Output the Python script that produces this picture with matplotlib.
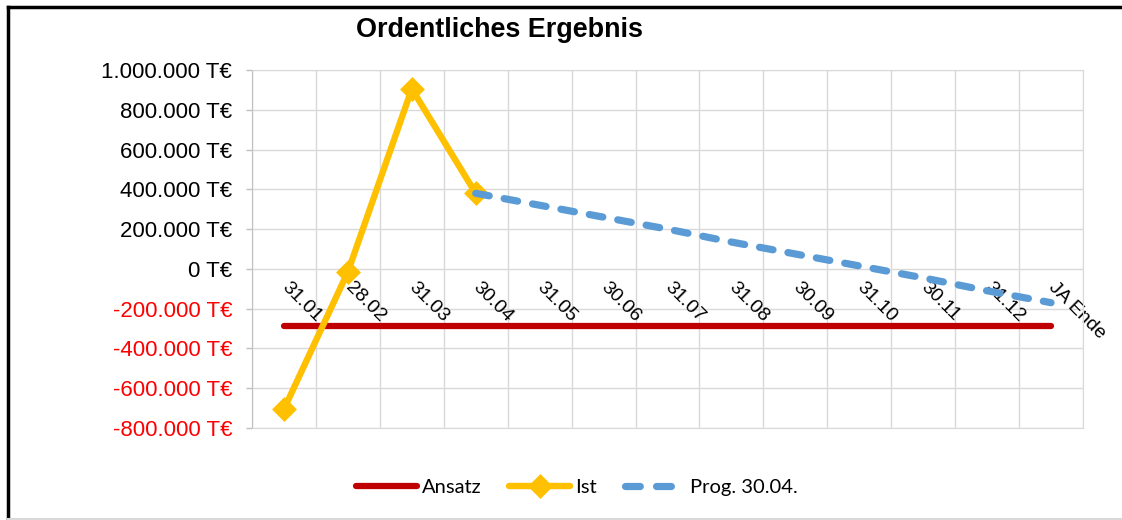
import matplotlib.pyplot as plt
from matplotlib.lines import Line2D

# category labels along the x axis
months = ['31.01', '28.02', '31.03', '30.04', '31.05', '30.06', '31.07',
          '31.08', '30.09', '31.10', '30.11', '31.12', 'JA Ende']

# values in T€
ansatz = [-285000] * 13
ist = [-705000, -15000, 905000, 380000]
prog = [380000, 320000, 260000, 200000, 135000, 75000, 15000, -45000,
        -110000, -170000]
prog_start = 3  # Prognose begins at 30.04

yticks = [-800000, -600000, -400000, -200000, 0, 200000, 400000, 600000,
          800000, 1000000]

plt.rcParams['font.family'] = ['Liberation Sans', 'DejaVu Sans']

fig = plt.figure(figsize=(11.22, 5.2), dpi=100)
ax = fig.add_axes([252 / 1122, 1 - 428 / 520, 831 / 1122, 358 / 520])

x_all = list(range(len(months)))
ax.plot(x_all, ansatz, color='#C00000', lw=4.5, solid_capstyle='round',
        zorder=3)
ax.plot(x_all[:len(ist)], ist, color='#FFC000', lw=4.6, marker='D',
        ms=10.5, mew=2.5, mec='#FFC000', solid_joinstyle='round',
        solid_capstyle='round', zorder=4)
ax.plot(x_all[prog_start:], prog, color='#5B9BD5', lw=5.2,
        dashes=(1.9, 2.1), dash_capstyle='round', zorder=5)

ax.set_xlim(-0.5, len(months) - 0.5)
ax.set_ylim(-800000, 1000000)

# grid: vertical lines between categories
ax.set_xticks([i - 0.5 for i in range(len(months) + 1)])
ax.set_xticklabels([])
ax.tick_params(axis='x', length=0)
ax.set_yticks(yticks)
ax.set_yticklabels([f"{v:,.0f}".replace(",", ".") + " T€" for v in yticks],
                   fontsize=16)
for lab, v in zip(ax.get_yticklabels(), yticks):
    lab.set_color('#FF0000' if v < 0 else 'black')
ax.tick_params(axis='y', length=4.3, width=1, color='#BFBFBF', pad=10)
ax.grid(True, color='#D9D9D9', lw=1)
ax.set_axisbelow(True)
for side in ['top', 'right', 'bottom']:
    ax.spines[side].set_color('#D9D9D9')
ax.spines['left'].set_color('#BFBFBF')

# rotated category labels next to the zero line
for i, m in enumerate(months):
    ax.text(i, -80000, m, rotation=-45, rotation_mode='anchor',
            ha='left', va='center', fontsize=14, zorder=2)

fig.text(499 / 1122, 1 - 30 / 520, 'Ordentliches Ergebnis', fontsize=19.4,
         fontweight='bold', ha='center', va='center')

handles = [
    Line2D([], [], color='#C00000', lw=4.5, solid_capstyle='round'),
    Line2D([], [], color='#FFC000', lw=4.6, marker='D', ms=10.5, mew=2.5,
           solid_capstyle='round'),
    Line2D([], [], color='#5B9BD5', lw=5.2, dashes=(2.05, 2.25),
           dash_capstyle='round'),
]
fig.legend(handles, ['Ansatz', 'Ist', 'Prog. 30.04.'], loc='center',
           bbox_to_anchor=(577 / 1122, 1 - 487 / 520), ncol=3, frameon=False,
           prop={'family': 'Lato', 'size': 14.5}, handlelength=3.0,
           handletextpad=0.25, columnspacing=1.4)

# outer frame of the chart object: black top and left, grey bottom
fig.add_artist(Line2D([8 / 1122, 8 / 1122], [1 - 519 / 520, 1 - 7 / 520],
                      transform=fig.transFigure, color='black', lw=2.5))
fig.add_artist(Line2D([8 / 1122, 1], [1 - 7 / 520, 1 - 7 / 520],
                      transform=fig.transFigure, color='black', lw=2.5))
fig.add_artist(Line2D([8 / 1122, 1], [1 - 519 / 520, 1 - 519 / 520],
                      transform=fig.transFigure, color='#D9D9D9', lw=1.5))

fig.savefig('out.png', dpi=100)
